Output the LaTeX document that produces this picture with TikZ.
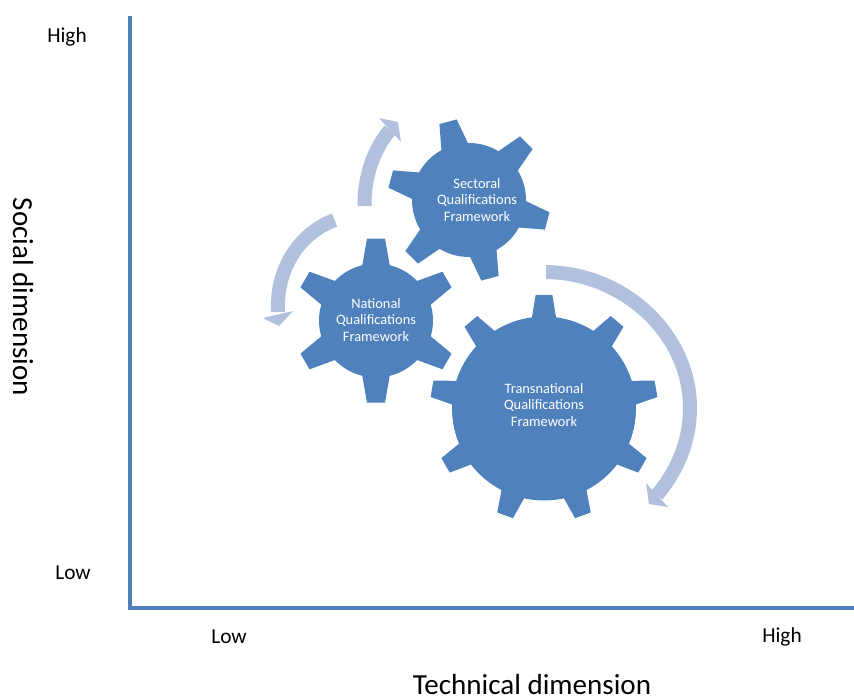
\documentclass[tikz,border=0pt]{standalone}
\usepackage{fontspec}
\setmainfont{Carlito}
\definecolor{mainblue}{HTML}{4F81BD}
\definecolor{lightblue}{HTML}{B1C1DD}
\tikzset{
  gearfill/.style={fill=mainblue},
  axisline/.style={draw=mainblue,line width=3pt},
  sweep/.style={draw=lightblue,line width=10.5pt},
  sweephead/.style={fill=lightblue},
  geartext/.style={text=white,align=center,font=\fontsize{10.8}{12.1}\selectfont,inner sep=0pt},
  ticktext/.style={font=\fontsize{16}{19}\selectfont,inner sep=0pt},
  axistext/.style={font=\fontsize{21.8}{26}\selectfont,inner sep=0pt}
}
\newcommand{\drawgear}[8]{% cx cy R Rt n start db dt
  \begin{scope}[shift={(#1,#2)}]
    \pgfmathsetmacro{\gstep}{360/#5}
    \fill[gearfill] (#6-#7:#3)
      \foreach \gi [evaluate=\gi as \ga using {#6+(\gi-1)*\gstep}] in {1,...,#5} {
        -- (\ga-#8:#4) -- (\ga+#8:#4) -- (\ga+#7:#3)
        arc[start angle=\ga+#7,end angle=\ga+\gstep-#7,radius=#3]
      } -- cycle;
  \end{scope}}
\begin{document}
\begin{tikzpicture}[x=0.75pt,y=-0.75pt]
\useasboundingbox (0,0) rectangle (854,697);
% axes
\coordinate (top) at (130,16);
\coordinate (origin) at (130,608);
\coordinate (right) at (854,608);
\draw[axisline] (top) -- (origin) -- (right);
% gears
\drawgear{376}{320.5}{57}{82.5}{6}{30}{13.9}{6.3}
\drawgear{469}{200}{57}{81.5}{6}{15}{13.9}{6.3}
\drawgear{544}{408.5}{92}{114}{9}{-90}{7.5}{4.2}
% sweeps
\coordinate (a1) at (364.5,206);
\coordinate (a2) at (390,130);
\draw[sweep] (a1) .. controls (364,178) and (373,150) .. (a2);
\fill[sweephead] (398,122) -- (379,118) -- (401,142) -- cycle;
\coordinate (b1) at (334.5,220);
\coordinate (b2) at (278,312);
\draw[sweep] (b1) .. controls (298,234) and (276,270) .. (b2);
\fill[sweephead] (279,326) -- (263,318) -- (293,311) -- cycle;
\coordinate (c1) at (546,272);
\coordinate (c2) at (657,495);
\draw[sweep] (c1) .. controls (625,273) and (690,335) .. (690,408) .. controls (690,440) and (678,470) .. (c2);
\fill[sweephead] (649,504) -- (646,483) -- (668,507) -- cycle;
% text
\node[geartext] (national) at (376,320) {National\\Qualifications\\Framework};
\node[geartext] (sectoral) at (477,200) {Sectoral\\Qualifications\\Framework};
\node[geartext] (trans) at (544,405) {Transnational\\Qualifications\\Framework};
\node[ticktext] (hy) at (67,37) {High};
\node[ticktext] (ly) at (73,573) {Low};
\node[ticktext] (lx) at (229,637) {Low};
\node[ticktext] (hx) at (782,637) {High};
\node[axistext,rotate=-90,anchor=base] (ylab) at (13,297) {Social dimension};
\node[axistext,anchor=base] (xlab) at (532,694) {Technical dimension};
\end{tikzpicture}
\end{document}
